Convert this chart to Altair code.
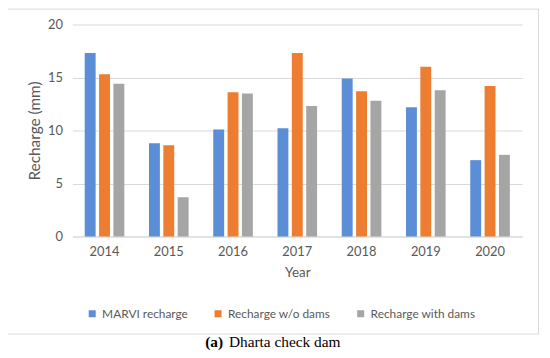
import altair as alt
import pandas as pd

years = ["2014", "2015", "2016", "2017", "2018", "2019", "2020"]
series = ["MARVI recharge", "Recharge w/o dams", "Recharge with dams"]
marvi = [17.3, 8.8, 10.1, 10.2, 14.9, 12.2, 7.2]
wo_dams = [15.3, 8.6, 13.6, 17.3, 13.7, 16.0, 14.2]
with_dams = [14.4, 3.7, 13.5, 12.3, 12.8, 13.8, 7.7]
colors = ["#5B8ED6", "#ED7D31", "#A5A5A5"]
y_ticks = [0, 5, 10, 15, 20]

rows = []
for vals, s in zip([marvi, wo_dams, with_dams], series):
    for yr, v in zip(years, vals):
        rows.append({"Year": yr, "Series": s, "Recharge": v})
df = pd.DataFrame(rows)

FONT = "Lato"
W, H = 454, 214

bars = alt.Chart(df).mark_bar().encode(
    x=alt.X("Year:N", sort=years,
            scale=alt.Scale(paddingInner=0.33, paddingOuter=0.165),
            axis=alt.Axis(title="Year", labelAngle=0, ticks=False, domain=True,
                          domainColor="#D9D9D9", labelPadding=9, titlePadding=7,
                          labelFontSize=13, titleFontSize=13.5, labelColor="#595959",
                          titleColor="#595959", labelFont=FONT, titleFont=FONT,
                          titleFontWeight="normal")),
    xOffset=alt.XOffset("Series:N", sort=series,
                        scale=alt.Scale(paddingInner=0.24, paddingOuter=0.12)),
    y=alt.Y("Recharge:Q", scale=alt.Scale(domain=[0, 20]),
            axis=alt.Axis(title="Recharge (mm)", values=y_ticks, ticks=False, domain=False,
                          gridColor="#D9D9D9", labelPadding=10, titlePadding=5,
                          labelFontSize=13, titleFontSize=15.5, labelColor="#595959",
                          titleColor="#595959", labelFont=FONT, titleFont=FONT,
                          titleFontWeight="normal")),
    color=alt.Color("Series:N", sort=series,
                    scale=alt.Scale(domain=series, range=colors),
                    legend=alt.Legend(title=None, orient="none", direction="horizontal",
                                      legendX=14, legendY=286, symbolType="square",
                                      symbolSize=50, symbolStrokeWidth=0,
                                      labelFontSize=12, labelFont=FONT,
                                      labelColor="#595959", columnPadding=24,
                                      labelOffset=4)),
)

border = alt.Chart(pd.DataFrame({"a": [0]})).mark_rect(
    fill=None, stroke="#D9D9D9", strokeWidth=1
).encode(x=alt.value(-65.5), x2=alt.value(470.5), y=alt.value(-15.5), y2=alt.value(98.5 + H))

cap_bold = alt.Chart(pd.DataFrame({"t": ["(a)"]})).mark_text(
    font="Liberation Serif", fontSize=15.5, fontWeight="bold", align="left", baseline="alphabetic",
    color="#000000"
).encode(x=alt.value(134), y=alt.value(H + 112), text="t:N")

cap = alt.Chart(pd.DataFrame({"t": ["Dharta check dam"]})).mark_text(
    font="Liberation Serif", fontSize=15.5, align="left", baseline="alphabetic", color="#000000"
).encode(x=alt.value(158), y=alt.value(H + 112), text="t:N")

chart = alt.layer(bars, border, cap_bold, cap).properties(
    width=W, height=H,
    autosize=alt.AutoSizeParams(type="none"),
    padding={"left": 65, "top": 15, "right": 20, "bottom": 118},
).configure_view(stroke=None)

chart.save("out.html", embed_options={"renderer": "svg", "actions": False})
